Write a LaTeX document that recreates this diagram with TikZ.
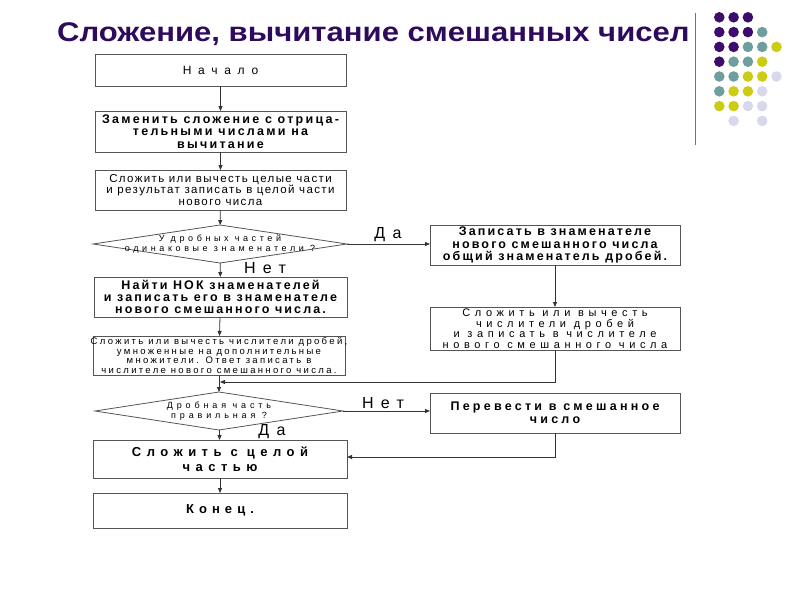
\documentclass[tikz,border=0pt]{standalone}
\usepackage{fontspec}
\setmainfont{Liberation Sans}
\newfontfamily\titlefont[FakeStretch=1.15]{Liberation Sans}
\usetikzlibrary{shapes.geometric,arrows.meta}
\definecolor{ttl}{HTML}{2E0A5C}
\definecolor{dpur}{HTML}{3E0C6C}
\definecolor{dteal}{HTML}{6E9E9E}
\definecolor{dyel}{HTML}{CCCC14}
\definecolor{dlav}{HTML}{D8D8EC}
\definecolor{edge}{HTML}{555555}
\newcommand\ls[1]{\addfontfeatures{LetterSpace=#1}}
\tikzset{
  box/.style={draw=edge, line width=0.8pt, rectangle, inner sep=0pt, outer sep=0pt, align=center, text=black},
  dia/.style={draw=edge, line width=0.8pt, diamond, inner sep=0pt, outer sep=0pt},
  dtxt/.style={align=center, inner sep=0pt, font={\fontsize{9}{10}\selectfont\ls{40}}},
  lab/.style={inner sep=0pt, font={\fontsize{16}{16}\selectfont\ls{46}}},
  arr/.style={draw=black!80, line width=0.8pt, -{Triangle[length=5pt,width=4pt]}},
  dot/.style={circle, inner sep=0pt, minimum size=10.6pt},
}
\begin{document}
\begin{tikzpicture}[x=1pt,y=-1pt]
\useasboundingbox (0,0) rectangle (800,600);
% title
\node[anchor=base west, inner sep=0pt, text=ttl, font={\titlefont\bfseries\fontsize{27}{27}\selectfont}] (title) at (57,41) {Сложение, вычитание смешанных чисел};
\draw[line width=1.5pt, draw=black!55] (695.7,13) -- (695.7,145);
% dots
\foreach \c/\r/\col in {0/0/dpur,1/0/dpur,2/0/dpur,
  0/1/dpur,1/1/dpur,2/1/dpur,3/1/dteal,
  0/2/dpur,1/2/dpur,2/2/dteal,3/2/dteal,4/2/dyel,
  0/3/dpur,1/3/dteal,2/3/dteal,3/3/dyel,
  0/4/dteal,1/4/dteal,2/4/dyel,3/4/dyel,4/4/dlav,
  0/5/dteal,1/5/dyel,2/5/dyel,3/5/dlav,
  0/6/dyel,1/6/dyel,2/6/dlav,3/6/dlav,
  1/7/dlav,3/7/dlav}
  \node[dot, fill=\col] (dot\c\r) at ({719.3+14.3*\c},{17.3+14.8*\r}) {};
% left column
\node[box, minimum width=251pt, minimum height=32pt, font={\fontsize{12}{13}\selectfont\ls{56}}] (n1) at (220.5,70) {Начало};
\node[box, minimum width=251pt, minimum height=41pt, font={\bfseries\fontsize{12.5}{12.5}\selectfont\ls{18}}] (n2) at (220.5,131.5) {Заменить сложение с отрица-\\тельными числами на\\вычитание};
\node[box, minimum width=251pt, minimum height=40pt, font={\fontsize{11.5}{11.8}\selectfont\ls{12}}] (n3) at (220.5,190) {Сложить или вычесть целые части\\и результат записать в целой части\\нового числа};
\node[dia, minimum width=254pt, minimum height=38pt] (d1) at (220,244) {};
\node[dtxt] (d1t) at (d1.center) {У дробных частей\\одинаковые знаменатели ?};
\node[box, minimum width=253pt, minimum height=40pt, font={\bfseries\fontsize{12.5}{12.3}\selectfont\ls{17}}] (n4) at (220.5,297) {Найти НОК знаменателей\\и записать его в знаменателе\\нового смешанного числа.};
\node[box, minimum width=252pt, minimum height=39pt, inner xsep=-6pt, inner ysep=-1.5pt, font={\fontsize{9.5}{9.7}\selectfont\ls{24.5}}] (n5) at (219,355.5) {Сложить или вычесть числители дробей,\\умноженные на дополнительные\\множители. Ответ записать в\\числителе нового смешанного числа.};
\node[dia, minimum width=248pt, minimum height=38pt] (d2) at (219,411) {};
\node[dtxt, font={\fontsize{9}{10}\selectfont\ls{43}}] (d2t) at (d2.center) {Дробная часть\\правильная ?};
\node[box, minimum width=254pt, minimum height=38pt, font={\bfseries\fontsize{13}{14.5}\selectfont\ls{42}}] (n6) at (220,459) {Сложить с целой\\частью};
\node[box, minimum width=254pt, minimum height=35pt, font={\bfseries\fontsize{13}{14}\selectfont\ls{39}}] (n7) at (220,510.5) {Конец.};
% right column
\node[box, minimum width=250pt, minimum height=40pt, font={\bfseries\fontsize{12.5}{12.2}\selectfont\ls{17}}] (r1) at (555,245) {Записать в знаменателе\\нового смешанного числа\\общий знаменатель дробей.};
\node[box, minimum width=250pt, minimum height=43pt, inner ysep=-1pt, font={\fontsize{11}{10.5}\selectfont\ls{42}}] (r2) at (555,328.5) {Сложить или вычесть\\числители дробей\\и записать в числителе\\нового смешанного числа};
\node[box, minimum width=250pt, minimum height=40pt, font={\bfseries\fontsize{12.5}{13}\selectfont\ls{26}}] (r3) at (555,413) {Перевести в смешанное\\число};
% connectors
\draw[arr] (n1) -- (n2);
\draw[arr] (n2) -- (n3);
\draw[arr] (n3) -- (d1);
\draw[arr] (d1) -- (n4);
\draw[arr] (n4) -- (n5);
\draw[arr] (n5) -- (d2);
\draw[arr] (d2) -- (n6);
\draw[arr] (n6) -- (n7);
\draw[arr] (d1.east) -- (d1.east -| r1.west);
\draw[arr] (r1) -- (r2);
\draw[arr] (d2.east) -- (d2.east -| r3.west);
\coordinate (m1) at (220,382);
\coordinate (m2) at (555,382);
\draw[arr] (r2.south) -- (m2) -- (m1);
\coordinate (m3) at (555,457);
\draw[arr] (r3.south) -- (m3) -- (m3 -| n6.east);
% labels
\node[lab] (l1) at (388,235) {Да};
\node[lab] (l2) at (265,268) {Нет};
\node[lab] (l3) at (383,403) {Нет};
\node[lab] (l4) at (272,432) {Да};
\end{tikzpicture}
\end{document}
